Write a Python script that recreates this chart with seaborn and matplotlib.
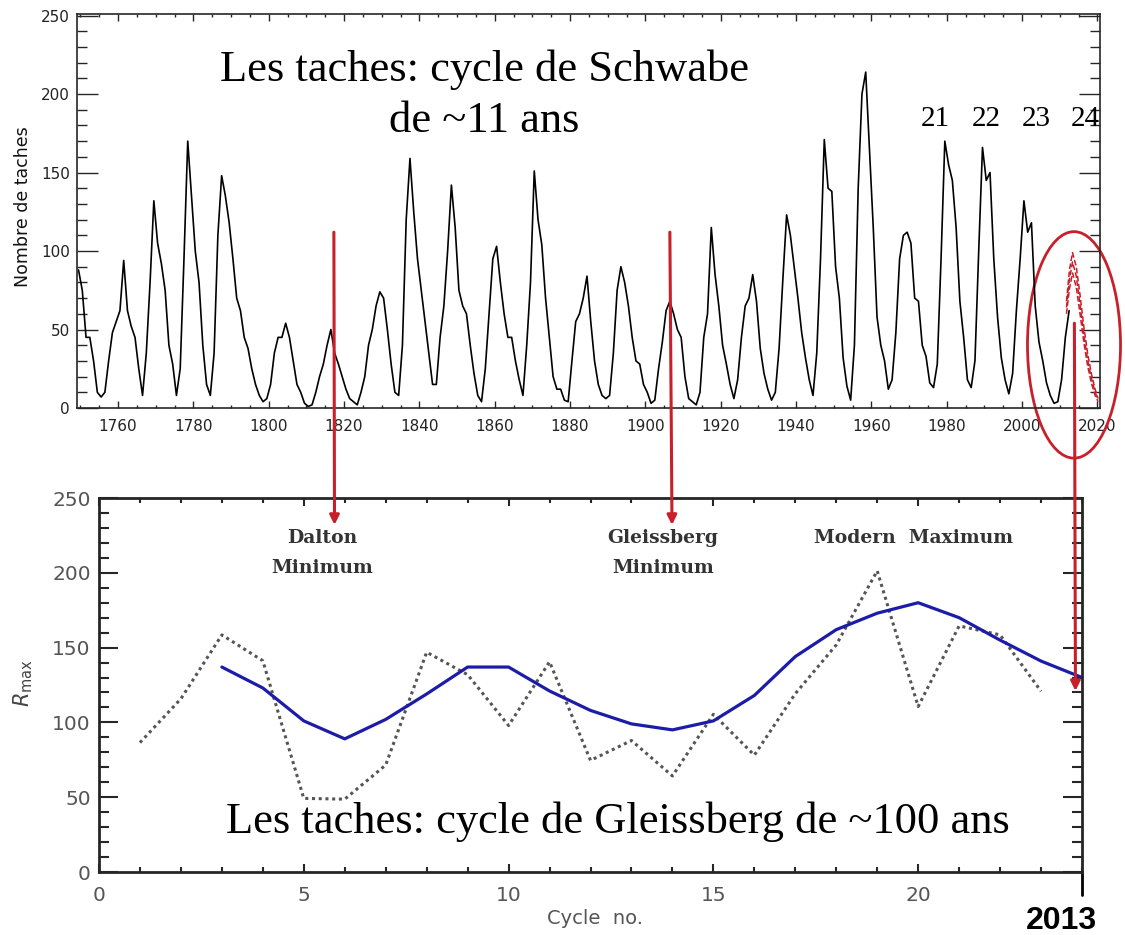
import numpy as np
import pandas as pd
import seaborn as sns
import matplotlib.pyplot as plt
from matplotlib.patches import Ellipse, ConnectionPatch
from matplotlib.ticker import MultipleLocator

sns.set_style('ticks')
plt.rcParams['font.family'] = ['DejaVu Sans']
plt.rcParams['mathtext.fontset'] = 'dejavusans'
plt.rcParams['text.color'] = 'black'

# nombre de taches (valeurs annuelles), 1749 -> 2012
annees = list(range(1749, 2013))
taches = [
    88, 75, 45, 45, 30, 10, 7, 10, 30, 48,            # 1749-1758
    55, 62, 94, 62, 52, 45, 25, 8, 35, 80,            # 1759-1768
    132, 105, 92, 75, 40, 28, 8, 25, 95, 170,         # 1769-1778
    135, 100, 80, 40, 15, 8, 35, 110, 148, 135,       # 1779-1788
    118, 95, 70, 62, 45, 38, 25, 15, 8, 4,            # 1789-1798
    6, 15, 35, 45, 45, 54, 45, 30, 15, 10,            # 1799-1808
    3, 1, 2, 10, 20, 28, 40, 50, 35, 28,              # 1809-1818
    20, 12, 6, 4, 2, 10, 20, 40, 50, 65,              # 1819-1828
    74, 70, 50, 28, 10, 8, 40, 120, 159, 125,         # 1829-1838
    95, 75, 55, 35, 15, 15, 45, 65, 100, 142,         # 1839-1848
    115, 75, 65, 60, 40, 22, 8, 4, 25, 60,            # 1849-1858
    95, 103, 80, 60, 45, 45, 30, 18, 8, 40,           # 1859-1868
    80, 151, 120, 104, 70, 45, 20, 12, 12, 5,         # 1869-1878
    4, 30, 55, 60, 70, 84, 55, 30, 15, 8,             # 1879-1888
    6, 8, 35, 75, 90, 80, 65, 45, 30, 28,             # 1889-1898
    15, 10, 3, 5, 25, 42, 62, 68, 60, 50,             # 1899-1908
    45, 20, 6, 4, 2, 10, 45, 60, 115, 85,             # 1909-1918
    65, 40, 28, 15, 6, 18, 45, 65, 70, 85,            # 1919-1928
    68, 38, 22, 12, 5, 10, 38, 82, 123, 110,          # 1929-1938
    90, 70, 48, 32, 18, 8, 35, 95, 171, 140,          # 1939-1948
    138, 90, 70, 32, 14, 5, 40, 140, 200, 214,        # 1949-1958
    165, 115, 58, 40, 30, 12, 18, 48, 95, 110,        # 1959-1968
    112, 105, 70, 68, 40, 33, 16, 13, 28, 95,         # 1969-1978
    170, 155, 145, 115, 68, 45, 18, 13, 30, 100,      # 1979-1988
    166, 145, 150, 95, 58, 32, 18, 9, 22, 62,         # 1989-1998
    95, 132, 112, 118, 65, 42, 30, 16, 8, 3,          # 1999-2008
    4, 18, 45, 62,                                    # 2009-2012
]

# prevision du cycle 24 (tirets rouges)
prev_annees = [2011.8, 2012.6, 2013.4, 2014.4, 2015.4, 2016.4, 2017.4, 2018.4, 2019.4, 2020.2]
prev_haute = [68, 88, 99, 90, 72, 52, 35, 22, 12, 6]
prev_moy = [64, 82, 93, 84, 66, 47, 31, 19, 10, 5]
prev_basse = [60, 76, 86, 77, 60, 42, 27, 16, 8, 4]

# maximum de chaque cycle (pointilles), cycles 1 -> 23
cycles = list(range(1, 24))
r_max = [86.5, 115.8, 158.5, 141.2, 49.2, 48.7, 71.5, 146.9, 131.9, 97.9, 140.5, 74.6,
         87.9, 64.2, 105.4, 78.1, 119.2, 151.8, 201.3, 110.6, 164.5, 158.5, 120.8]

# moyenne glissante (trait bleu), cycles 3 -> 24
cycles_lisse = list(range(3, 25))
r_lisse = [137, 123, 101, 89, 102, 119, 137, 137, 121, 108, 99, 95,
           101, 118, 144, 162, 173, 180, 170, 155, 141, 130]

rouge = '#c8202a'
serif = ['Liberation Serif', 'DejaVu Serif']

fig = plt.figure(figsize=(11.25, 9.35), dpi=100)
ax1 = fig.add_axes([77 / 1125, 1 - 408 / 935, 1023 / 1125, 394 / 935])
ax2 = fig.add_axes([99 / 1125, 1 - 872 / 935, 983 / 1125, 374 / 935])

# ---- panneau du haut : cycle de Schwabe
df_haut = pd.DataFrame({'annee': np.array(annees) + 0.5, 'taches': taches})
sns.lineplot(data=df_haut, x='annee', y='taches', ax=ax1, color='black', lw=1.2)
for serie in (prev_haute, prev_moy, prev_basse):
    sns.lineplot(x=prev_annees, y=serie, ax=ax1, color=rouge, lw=1.1, linestyle='--')

ax1.set_xlim(1749.1, 2020.7)
ax1.set_ylim(0, 251)
ax1.set_xlabel('')
ax1.set_ylabel('')
ax1.xaxis.set_major_locator(MultipleLocator(20))
ax1.xaxis.set_minor_locator(MultipleLocator(5))
ax1.yaxis.set_major_locator(MultipleLocator(50))
ax1.yaxis.set_minor_locator(MultipleLocator(10))
ax1.tick_params(which='both', direction='in', top=True, right=True, width=1,
                labelsize=11, labelcolor='#222')
ax1.tick_params(axis='y', which='major', length=15, pad=5)
ax1.tick_params(axis='y', which='minor', length=7)
ax1.tick_params(axis='x', which='major', length=5, pad=8)
ax1.tick_params(axis='x', which='minor', length=2.5)
for s in ax1.spines.values():
    s.set_linewidth(1.2)

ax1.text(1857.2, 208, 'Les taches: cycle de Schwabe', family=serif, fontsize=32,
         ha='center', va='baseline')
ax1.text(1857.2, 175.6, 'de ~11 ans', family=serif, fontsize=32,
         ha='center', va='baseline')
for xc, lab in zip([1976.9, 1990.4, 2003.7, 2016.7], ['21', '22', '23', '24']):
    ax1.text(xc, 179.4, lab, family=serif, fontsize=21, ha='center', va='baseline')

ax1.add_patch(Ellipse((2013.8, 40.2), width=24.7, height=144.3, fill=False,
                      edgecolor=rouge, lw=2, clip_on=False))

# ---- panneau du bas : cycle de Gleissberg
sns.lineplot(x=cycles, y=r_max, ax=ax2, color='#555555', lw=2.2, linestyle=(0, (1, 1.2)))
sns.lineplot(x=cycles_lisse, y=r_lisse, ax=ax2, color='#1c1ca8', lw=2.3)

ax2.set_xlim(0, 24)
ax2.set_ylim(0, 250)
ax2.xaxis.set_major_locator(MultipleLocator(5))
ax2.xaxis.set_minor_locator(MultipleLocator(1))
ax2.yaxis.set_major_locator(MultipleLocator(50))
ax2.yaxis.set_minor_locator(MultipleLocator(10))
ax2.tick_params(which='both', direction='in', top=True, right=True, width=1.5,
                labelsize=14.5, labelcolor='#555')
ax2.tick_params(axis='y', which='major', length=13.5, pad=6)
ax2.tick_params(axis='y', which='minor', length=7)
ax2.tick_params(axis='x', which='major', length=6, pad=10)
ax2.tick_params(axis='x', which='minor', length=3.5)
for s in ax2.spines.values():
    s.set_linewidth(2)

ax2.text(12.68, 26.3, 'Les taches: cycle de Gleissberg de ~100 ans', family=serif,
         fontsize=32, ha='center', va='baseline')
etiq = dict(family='DejaVu Serif', fontweight='bold', fontsize=13.5, color='#333',
            ha='center', va='center')
ax2.text(5.45, 223.5, 'Dalton', **etiq)
ax2.text(5.45, 203.5, 'Minimum', **etiq)
ax2.text(13.77, 223.5, 'Gleissberg', **etiq)
ax2.text(13.77, 203.5, 'Minimum', **etiq)
ax2.text(19.88, 223.5, 'Modern  Maximum', **etiq)

trans = ax2.get_xaxis_transform()
ax2.plot([24, 24], [0, -0.062], transform=trans, color='black', lw=2, clip_on=False)
ax2.text(23.5, -0.13, '2013', transform=trans, fontsize=23, fontweight='bold',
         family=['Liberation Sans', 'DejaVu Sans'], ha='center', va='center')

fig.text(23 / 1125, 1 - 207 / 935, 'Nombre de taches', rotation=90, fontsize=12.5,
         ha='center', va='center', color='#111')
fig.text(23 / 1125, 1 - 683 / 935, r'$R_{\mathrm{max}}$', rotation=90, fontsize=15,
         ha='center', va='center', color='#444')
fig.text(595 / 1125, 1 - 918 / 935, 'Cycle  no.', fontsize=14, ha='center',
         va='center', color='#555')

# ---- fleches rouges entre les deux panneaux
for (xa, ya), (xb, yb) in [((1817.3, 112), (5.75, 232)),
                           ((1906.5, 112), (13.99, 232)),
                           ((2013.9, 54), (23.84, 121))]:
    con = ConnectionPatch(xyA=(xa, ya), coordsA=ax1.transData,
                          xyB=(xb, yb), coordsB=ax2.transData,
                          arrowstyle='-|>', mutation_scale=14, color=rouge, lw=2.2)
    fig.add_artist(con)

fig.savefig('out.png', dpi=100, facecolor='white')
